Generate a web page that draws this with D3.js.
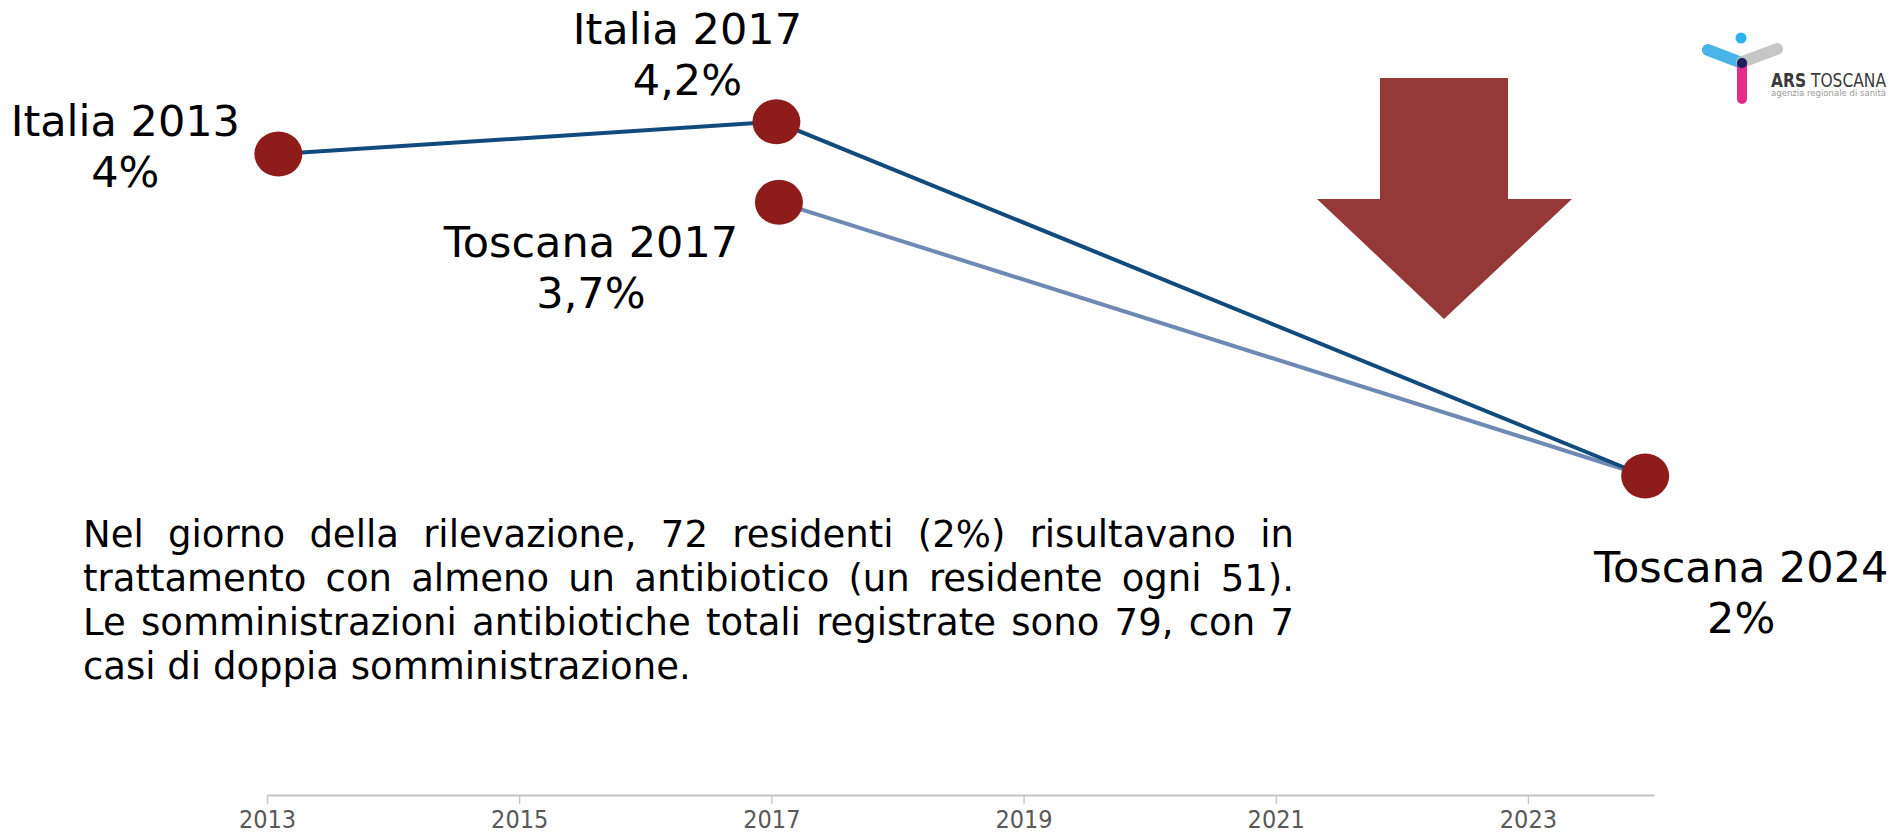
<!DOCTYPE html>
<html>
<head>
<meta charset="utf-8">
<script src="https://cdn.jsdelivr.net/npm/d3@7/dist/d3.min.js"></script>
<style>
  html, body { margin: 0; padding: 0; background: #ffffff; overflow: hidden; }
  svg { display: block; }
</style>
</head>
<body>
<svg id="chart" width="1897" height="835"></svg>
<script>
// ---------------- DATA ----------------
const seriesNames = ["Italia", "Toscana"];
const italiaYears = [2013.09, 2017.04];
const italiaValues = [4.0, 4.2];
const toscanaYears = [2017.06, 2023.93];
const toscanaValues = [3.7, 2.0];
const tickYears = [2013, 2015, 2017, 2019, 2021, 2023];
const pointLabels = ["Italia 2013", "Italia 2017", "Toscana 2017", "Toscana 2024"];
const pointValueLabels = ["4%", "4,2%", "3,7%", "2%"];
const noteLines = [
  "Nel giorno della rilevazione, 72 residenti (2%) risultavano in",
  "trattamento con almeno un antibiotico (un residente ogni 51).",
  "Le somministrazioni antibiotiche totali registrate sono 79, con 7",
  "casi di doppia somministrazione."
];

// ---------------- LAYOUT ----------------
const W = 1897, H = 835;
const axisY = 795;
const x = d3.scaleLinear().domain([2013, 2024]).range([267, 1654]);
const y = d3.scaleLinear().domain([0, 5]).range([798, -7]);

const colors = { italia: "#114B7D", toscana: "#6E89B3", dot: "#8E1C1A", arrow: "#943838" };
const svg = d3.select("#chart");

// axis
const axis = d3.axisBottom(x)
  .tickValues(tickYears)
  .tickFormat(d3.format("d"))
  .tickSize(9)
  .tickSizeOuter(0)
  .tickPadding(6);
const gAxis = svg.append("g").attr("transform", `translate(0,${axisY})`).call(axis);
gAxis.select(".domain").attr("stroke", "#C4C4C4").attr("stroke-width", 2);
gAxis.selectAll(".tick line").attr("stroke", "#C4C4C4").attr("stroke-width", 1.3);
gAxis.selectAll(".tick text")
  .attr("fill", "#595959")
  .style("font-family", "'Liberation Sans Narrow', 'DejaVu Sans Condensed', sans-serif")
  .style("font-size", "25px")
  .attr("dy", "0.71em");

// lines
const line = d3.line().x(d => x(d[0])).y(d => y(d[1]));
const italiaPts = italiaYears.map((yr, i) => [yr, italiaValues[i]]);
const toscanaPts = toscanaYears.map((yr, i) => [yr, toscanaValues[i]]);
svg.append("path").datum(toscanaPts).attr("d", line)
  .attr("fill", "none").attr("stroke", colors.toscana).attr("stroke-width", 4);
svg.append("path").datum(italiaPts.concat([toscanaPts[1]])).attr("d", line)
  .attr("fill", "none").attr("stroke", colors.italia).attr("stroke-width", 4);

// dots
const allPts = [italiaPts[0], italiaPts[1], toscanaPts[0], toscanaPts[1]];
svg.selectAll("ellipse.dot").data(allPts).enter().append("ellipse")
  .attr("class", "dot")
  .attr("cx", d => x(d[0])).attr("cy", d => y(d[1]))
  .attr("rx", 24).attr("ry", 22.5)
  .attr("fill", colors.dot);

// point labels (offset from each point)
const labelOffsets = [[-153, -18], [-89, -78], [-188, 55], [96, 106]];
const labelFont = "'DejaVu Sans', Verdana, sans-serif";
allPts.forEach((p, i) => {
  const cx = x(p[0]) + labelOffsets[i][0];
  const by = y(p[1]) + labelOffsets[i][1];
  const t = svg.append("text")
    .attr("text-anchor", "middle")
    .style("font-family", labelFont)
    .style("font-size", "43px")
    .attr("fill", "#000");
  t.append("tspan").attr("x", cx).attr("y", by).text(pointLabels[i]);
  t.append("tspan").attr("x", cx).attr("y", by + 51).text(pointValueLabels[i]);
});

// arrow
const arrowPath = [[1380, 78], [1508, 78], [1508, 199], [1572, 199], [1444, 319], [1317, 199], [1380, 199]];
svg.append("path")
  .attr("d", "M" + arrowPath.map(p => p.join(",")).join("L") + "Z")
  .attr("fill", colors.arrow);

// justified note text
const noteLeft = 83, noteRight = 1294, noteTop = 547, noteStep = 44;
const gNote = svg.append("g")
  .style("font-family", labelFont)
  .style("font-size", "37px")
  .attr("fill", "#000");
noteLines.forEach((ln, li) => {
  const by = noteTop + li * noteStep;
  const words = ln.split(" ");
  const nodes = words.map(w => gNote.append("text").attr("y", by).text(w));
  const widths = nodes.map(n => n.node().getComputedTextLength());
  const total = d3.sum(widths);
  const last = li === noteLines.length - 1;
  const spaceW = last ? 37 * 0.318 : (noteRight - noteLeft - total) / (words.length - 1);
  let cx = noteLeft;
  nodes.forEach((n, i) => { n.attr("x", cx); cx += widths[i] + spaceW; });
});

// logo
const gLogo = svg.append("g");
gLogo.append("line").attr("x1", 1708).attr("y1", 50).attr("x2", 1742).attr("y2", 63)
  .attr("stroke", "#29A9E6").attr("stroke-width", 12).attr("stroke-linecap", "round").attr("opacity", 0.85);
gLogo.append("line").attr("x1", 1742).attr("y1", 62).attr("x2", 1777).attr("y2", 49)
  .attr("stroke", "#BDBDBD").attr("stroke-width", 12).attr("stroke-linecap", "round").attr("opacity", 0.85);
gLogo.append("line").attr("x1", 1742).attr("y1", 64).attr("x2", 1742).attr("y2", 99)
  .attr("stroke", "#E5157F").attr("stroke-width", 10).attr("stroke-linecap", "round").attr("opacity", 0.9);
gLogo.append("circle").attr("cx", 1741).attr("cy", 38).attr("r", 5.5).attr("fill", "#2CB3EE");
gLogo.append("circle").attr("cx", 1742).attr("cy", 63).attr("r", 5).attr("fill", "#1B1F5E");
const logoT = gLogo.append("text").attr("x", 1771).attr("y", 87)
  .style("font-family", "'Liberation Sans Narrow', 'DejaVu Sans Condensed', sans-serif")
  .style("font-size", "19px").attr("fill", "#3A3A3A")
  .attr("textLength", 115).attr("lengthAdjust", "spacingAndGlyphs");
logoT.append("tspan").style("font-weight", "bold").text("ARS");
logoT.append("tspan").text(" TOSCANA");
gLogo.append("text").attr("x", 1771).attr("y", 96)
  .style("font-family", "'Liberation Sans Narrow', 'DejaVu Sans Condensed', sans-serif")
  .style("font-size", "9px").attr("fill", "#9A9A9A")
  .attr("textLength", 115).attr("lengthAdjust", "spacingAndGlyphs")
  .text("agenzia regionale di sanità");
</script>
</body>
</html>
